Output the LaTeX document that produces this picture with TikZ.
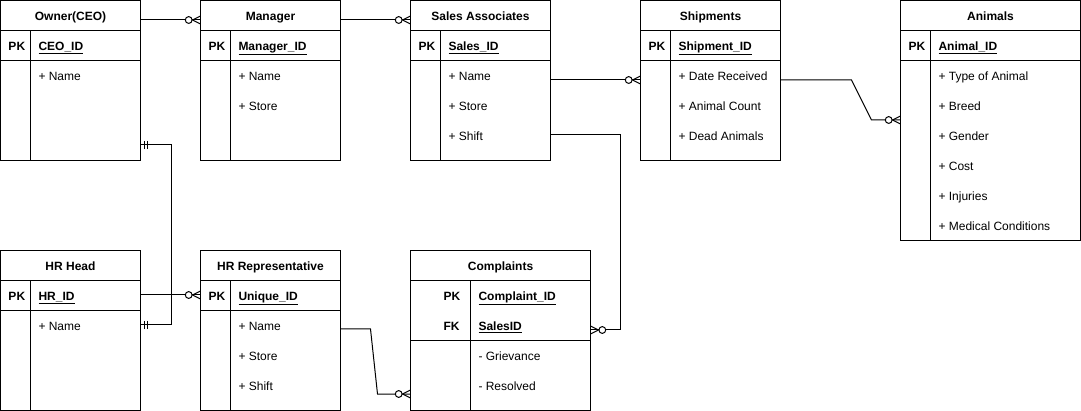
\documentclass[tikz,border=0pt]{standalone}
\usepackage{fontspec}
\setmainfont{Liberation Sans}
\tikzset{
  tab/.style={draw, rectangle, anchor=north west, inner sep=0pt, outer sep=0pt},
  txt/.style={anchor=base west, inner sep=0pt, yshift=-0.8pt},
  ttl/.style={anchor=base, inner sep=0pt, font=\fontsize{12}{14}\selectfont\bfseries},
  keytxt/.style={anchor=base west, inner sep=0pt, yshift=-0.8pt, font=\fontsize{12}{14}\selectfont\bfseries},
  conn/.style={draw, line width=1pt},
}
\newcommand{\ertab}[8]{% name, x, y, w, h, keyw, keyrows, title
  \node[tab, minimum width=#4pt, minimum height=#5pt] (#1) at (#2,#3) {};
  \draw ([yshift=-30pt]#1.north west) -- ([yshift=-30pt]#1.north east);
  \draw ([yshift={-30pt-30pt*#7}]#1.north west) -- ([yshift={-30pt-30pt*#7}]#1.north east);
  \draw ([xshift=#6pt,yshift=-30pt]#1.north west) -- ([xshift=#6pt]#1.south west);
  \node[ttl] (#1-title) at ([yshift=-20.3pt]#1.north) {#8};
}
\newcommand{\zmL}[1]{% zero-or-many, entity to the right of point
  \draw ([xshift=-8pt]#1) -- ([yshift=4pt]#1);
  \draw ([xshift=-8pt]#1) -- ([yshift=-4pt]#1);
  \draw[fill=white] ([xshift=-11.8pt]#1) circle (3.4pt);
}
\newcommand{\zmR}[1]{% zero-or-many, entity to the left of point
  \draw ([xshift=8pt]#1) -- ([yshift=4pt]#1);
  \draw ([xshift=8pt]#1) -- ([yshift=-4pt]#1);
  \draw[fill=white] ([xshift=11.8pt]#1) circle (3.4pt);
}
\newcommand{\moneR}[1]{% mandatory one, entity to the left of point
  \draw ([xshift=4pt,yshift=4pt]#1) -- ([xshift=4pt,yshift=-4pt]#1);
  \draw ([xshift=7pt,yshift=4pt]#1) -- ([xshift=7pt,yshift=-4pt]#1);
}
\begin{document}
\begin{tikzpicture}[x=1pt,y=-1pt,line width=1pt,
  every node/.append style={font=\fontsize{12}{14}\selectfont}]
\fill[white] (0,0) rectangle (1081,411);
\useasboundingbox (0,0) rectangle (1081,411);

% tables
\ertab{owner}{0.5}{0.5}{140}{160}{30}{1}{Owner(CEO)}
\ertab{manager}{200.5}{0.5}{140}{160}{30}{1}{Manager}
\ertab{sales}{410.5}{0.5}{140}{160}{30}{1}{Sales Associates}
\ertab{ship}{640.5}{0.5}{140}{160}{30}{1}{Shipments}
\ertab{animals}{900.5}{0.5}{180}{240}{30}{1}{Animals}
\ertab{hrhead}{0.5}{250.5}{140}{160}{30}{1}{HR Head}
\ertab{hrrep}{200.5}{250.5}{140}{160}{30}{1}{HR Representative}
\ertab{compl}{410.5}{250.5}{180}{160}{60}{2}{Complaints}

% Owner
\node[keytxt] (o-pk) at (8,49.5) {PK};
\node[keytxt] (o-id) at (38,49.5) {\underline{CEO\_ID}};
\node[txt] (o-1) at (38,79.5) {+ Name};
% Manager
\node[keytxt] (m-pk) at (208,49.5) {PK};
\node[keytxt] (m-id) at (238,49.5) {\underline{Manager\_ID}};
\node[txt] (m-1) at (238,79.5) {+ Name};
\node[txt] (m-2) at (238,109.5) {+ Store};
% Sales
\node[keytxt] (s-pk) at (418,49.5) {PK};
\node[keytxt] (s-id) at (448,49.5) {\underline{Sales\_ID}};
\node[txt] (s-1) at (448,79.5) {+ Name};
\node[txt] (s-2) at (448,109.5) {+ Store};
\node[txt] (s-3) at (448,139.5) {+ Shift};
% Shipments
\node[keytxt] (sh-pk) at (648,49.5) {PK};
\node[keytxt] (sh-id) at (678,49.5) {\underline{Shipment\_ID}};
\node[txt] (sh-1) at (678,79.5) {+ Date Received};
\node[txt] (sh-2) at (678,109.5) {+ Animal Count};
\node[txt] (sh-3) at (678,139.5) {+ Dead Animals};
% Animals
\node[keytxt] (a-pk) at (908,49.5) {PK};
\node[keytxt] (a-id) at (938,49.5) {\underline{Animal\_ID}};
\node[txt] (a-1) at (938,79.5) {+ Type of Animal};
\node[txt] (a-2) at (938,109.5) {+ Breed};
\node[txt] (a-3) at (938,139.5) {+ Gender};
\node[txt] (a-4) at (938,169.5) {+ Cost};
\node[txt] (a-5) at (938,199.5) {+ Injuries};
\node[txt] (a-6) at (938,229.5) {+ Medical Conditions};
% HR Head
\node[keytxt] (h-pk) at (8,299.5) {PK};
\node[keytxt] (h-id) at (38,299.5) {\underline{HR\_ID}};
\node[txt] (h-1) at (38,329.5) {+ Name};
% HR Representative
\node[keytxt] (r-pk) at (208,299.5) {PK};
\node[keytxt] (r-id) at (238,299.5) {\underline{Unique\_ID}};
\node[txt] (r-1) at (238,329.5) {+ Name};
\node[txt] (r-2) at (238,359.5) {+ Store};
\node[txt] (r-3) at (238,389.5) {+ Shift};
% Complaints
\node[keytxt] (c-pk) at (443,299.5) {PK};
\node[keytxt] (c-fk) at (443,329.5) {FK};
\node[keytxt] (c-id) at (478,299.5) {\underline{Complaint\_ID}};
\node[keytxt] (c-sid) at (478,329.5) {\underline{SalesID}};
\node[txt] (c-1) at (478,359.5) {- Grievance};
\node[txt] (c-2) at (478,389.5) {- Resolved};

% connector end points
\coordinate (e1a) at ([yshift=-19.5pt]owner.north east);
\coordinate (e1b) at ([yshift=-19.5pt]manager.north west);
\coordinate (e2a) at ([yshift=-19.5pt]manager.north east);
\coordinate (e2b) at ([yshift=-19.5pt]sales.north west);
\coordinate (e3a) at ([yshift=-79.5pt]sales.north east);
\coordinate (e3b) at ([yshift=-79.5pt]ship.north west);
\coordinate (e4a) at ([yshift=-79.5pt]ship.north east);
\coordinate (e4b) at ([yshift=-119.5pt]animals.north west);
\coordinate (e5a) at ([yshift=-144.5pt]owner.north east);
\coordinate (e5b) at ([yshift=-74.5pt]hrhead.north east);
\coordinate (e6a) at ([yshift=-44.5pt]hrhead.north east);
\coordinate (e6b) at ([yshift=-44.5pt]hrrep.north west);
\coordinate (e7a) at ([yshift=-78.5pt]hrrep.north east);
\coordinate (e7b) at ([yshift=-143.5pt]compl.north west);
\coordinate (e8a) at ([yshift=-134.5pt]sales.north east);
\coordinate (e8b) at ([yshift=-79.5pt]compl.north east);

% connectors
\draw (e1a) -- (e1b);  \zmL{e1b}
\draw (e2a) -- (e2b);  \zmL{e2b}
\draw (e3a) -- (e3b);  \zmL{e3b}
\draw (e4a) -- ++(71,0) -- ++(20,40) -- (e4b);  \zmL{e4b}
\draw (e5a) -- ++(31,0) |- (e5b);  \moneR{e5a} \moneR{e5b}
\draw (e6a) -- (e6b);  \zmL{e6b}
\draw (e7a) -- ++(30,0) -- ++(7,65) -- (e7b);  \zmL{e7b}
\draw (e8a) -- ++(70,0) |- (e8b);  \zmR{e8b}
\end{tikzpicture}
\end{document}
